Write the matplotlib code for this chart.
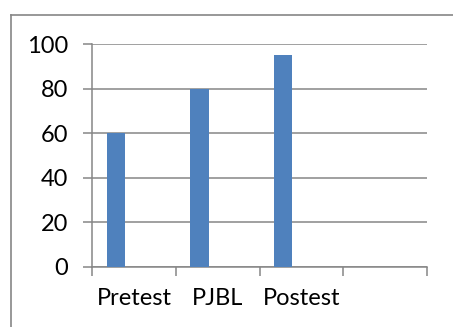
import numpy as np
import matplotlib.pyplot as plt
from matplotlib.lines import Line2D

plt.rcParams['font.family'] = ['Lato', 'DejaVu Sans']

categories = ['Pretest', 'PJBL', 'Postest', '']
scores = [60, 80, 95, 0]
yticks = [0, 20, 40, 60, 80, 100]

grey = '#868686'
bar_color = '#4F81BD'

fig = plt.figure(figsize=(4.53, 3.27), dpi=100)
ax = fig.add_axes([0.2038, 0.1835, 0.7388, 0.6819])

# bars sit at the left part of each category slot
slots = np.arange(len(categories))
ax.bar(slots[:3] + 0.17, scores[:3], width=0.22, align='edge', color=bar_color, zorder=3)

ax.set_xlim(0, 4)
ax.set_ylim(0, 100)
ax.set_yticks(yticks)
ax.set_yticklabels([str(v) for v in yticks], fontsize=17)
ax.set_xticks(np.arange(5))
ax.set_xticklabels([])
ax.set_xticks(slots + 0.5, minor=True)
ax.set_xticklabels(categories, minor=True, fontsize=17)

ax.grid(axis='y', color=grey, lw=1.1, zorder=0)
ax.tick_params(axis='y', length=6.5, width=1.1, color=grey, pad=11, labelcolor='black')
ax.tick_params(axis='x', which='major', length=6.5, width=1.1, color=grey, direction='out')
ax.tick_params(axis='x', which='minor', length=0, pad=15)

for side in ['top', 'right']:
    ax.spines[side].set_visible(False)
for side in ['left', 'bottom']:
    ax.spines[side].set_color(grey)
    ax.spines[side].set_linewidth(1.1)

# outer chart frame, running off the right and bottom edges
x0 = 11 / 453
y0 = 1 - 15 / 327
fig.add_artist(Line2D([x0, x0], [0, y0], color=grey, lw=1.2, transform=fig.transFigure))
fig.add_artist(Line2D([x0, 1], [y0, y0], color=grey, lw=1.2, transform=fig.transFigure))

fig.savefig('out.png', dpi=100)
